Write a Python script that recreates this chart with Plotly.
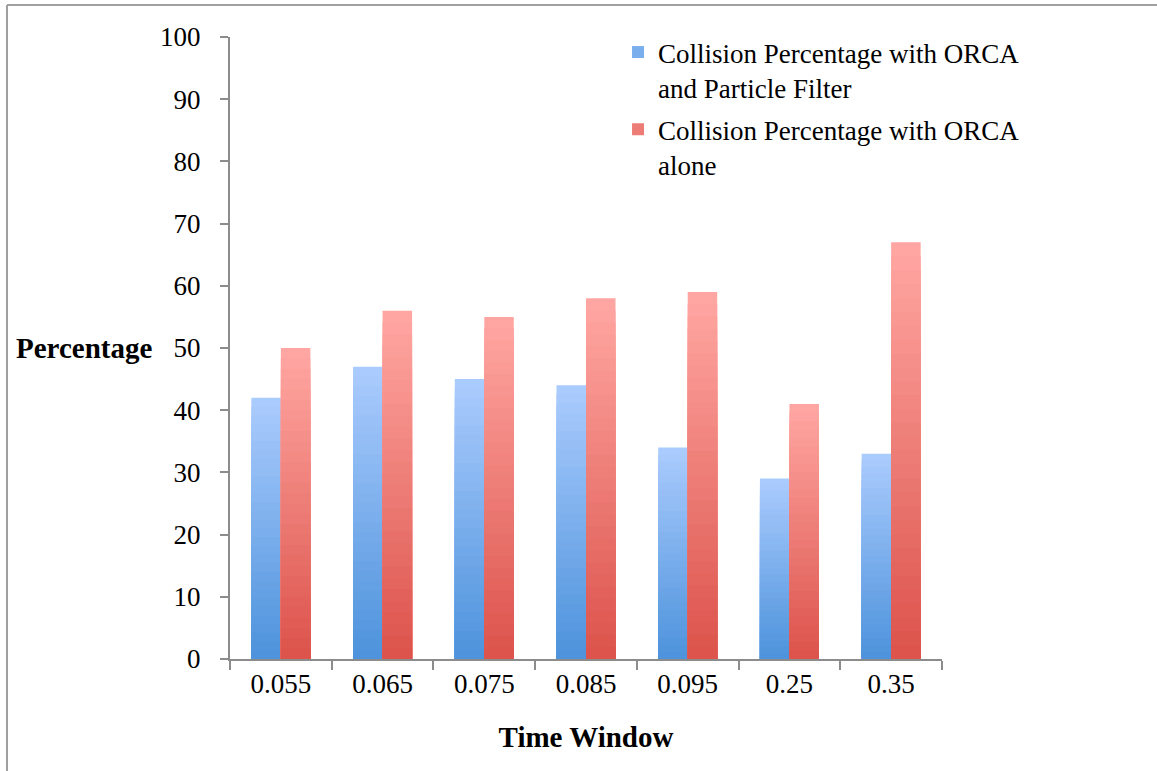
import plotly.graph_objects as go

# ---- data ----
categories = ["0.055", "0.065", "0.075", "0.085", "0.095", "0.25", "0.35"]
pf_values = [42, 47, 45, 44, 34, 29, 33]          # ORCA + Particle Filter
orca_values = [50, 56, 55, 58, 59, 41, 67]        # ORCA alone
series_names = ["Collision Percentage with ORCA<br>and Particle Filter",
                "Collision Percentage with ORCA<br>alone"]
y_ticks = [0, 10, 20, 30, 40, 50, 60, 70, 80, 90, 100]

# ---- style ----
W, H = 1157, 771
ML, MR, MT, MB = 230, 215, 37, 112
PW, PH = W - ML - MR, H - MT - MB
FONT = "Liberation Serif"
blue_top, blue_bot = (170, 203, 253), (78, 147, 220)
red_top, red_bot = (255, 166, 162), (220, 84, 76)
N_STEPS = 30
BAR_W = 0.29


def mix(c1, c2, t):
    return "rgb(%d,%d,%d)" % tuple(round(a + (b - a) * t) for a, b in zip(c1, c2))


def px_to_paper_x(px):
    return (px - ML) / PW


def px_to_paper_y(py):
    return (H - MB - py) / PH


fig = go.Figure()

for s, (vals, top, bot, off) in enumerate([
        (pf_values, blue_top, blue_bot, -BAR_W),
        (orca_values, red_top, red_bot, 0.0)]):
    for k in range(N_STEPS):
        frac = (N_STEPS - k) / N_STEPS
        show = (k == N_STEPS // 2)
        fig.add_trace(go.Bar(
            x=categories,
            y=[v * frac for v in vals],
            width=BAR_W,
            offset=off,
            marker=dict(color=mix(top, bot, k / (N_STEPS - 1)), line=dict(width=0)),
            name=series_names[s],
            legendgroup="s%d" % s,
            showlegend=show,
            hoverinfo="skip" if not show else None,
        ))

fig.update_layout(
    width=W, height=H,
    margin=dict(l=ML, r=MR, t=MT, b=MB),
    barmode="overlay",
    paper_bgcolor="white",
    plot_bgcolor="white",
    font=dict(family=FONT, size=27, color="black"),
    legend=dict(
        x=0.545, y=px_to_paper_y(MT - 9), xanchor="left", yanchor="top",
        valign="top",
        font=dict(family=FONT, size=27, color="black"),
        bgcolor="rgba(0,0,0,0)",
        tracegroupgap=4,
    ),
    showlegend=True,
)

fig.update_xaxes(
    type="category",
    showline=True, linecolor="#8c8c8c", linewidth=2,
    ticks="outside", ticklen=9, tickwidth=2, tickcolor="#8c8c8c",
    tickson="boundaries",
    showgrid=False, zeroline=False,
    tickfont=dict(family=FONT, size=27),
    title=dict(text="<b>Time Window</b>", font=dict(family=FONT, size=29), standoff=28),
)
fig.update_yaxes(
    range=[0, 100],
    tickvals=y_ticks,
    showline=True, linecolor="#8c8c8c", linewidth=2,
    ticks="outside", ticklen=8, tickwidth=2, tickcolor="#8c8c8c",
    ticklabelstandoff=14,
    showgrid=False, zeroline=False,
    tickfont=dict(family=FONT, size=27),
)

fig.add_annotation(
    text="<b>Percentage</b>", xref="paper", yref="y",
    x=px_to_paper_x(154), y=50, xanchor="right", yanchor="middle",
    showarrow=False, font=dict(family=FONT, size=29, color="black"),
)

# outer frame (left and top edges)
fx = px_to_paper_x(7)
fy = px_to_paper_y(5)
fig.add_shape(type="line", xref="paper", yref="paper",
              x0=fx, x1=fx, y0=px_to_paper_y(H + 5), y1=fy,
              line=dict(color="#a0a0a0", width=2))
fig.add_shape(type="line", xref="paper", yref="paper",
              x0=fx, x1=px_to_paper_x(W + 5), y0=fy, y1=fy,
              line=dict(color="#a0a0a0", width=2))

fig.write_html("out.html")
